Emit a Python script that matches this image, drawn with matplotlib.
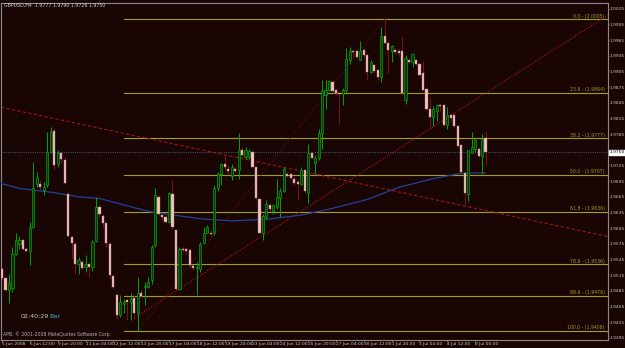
import matplotlib
matplotlib.use("Agg")
import matplotlib.pyplot as plt
import matplotlib.transforms as mtransforms

plt.rcParams['font.family'] = ['Liberation Sans Narrow', 'DejaVu Sans']

# GBPUSD H4 bars (O, H, L, C)
opens = [1.9526, 1.9509, 1.9486, 1.9490, 1.9556, 1.9575, 1.9582, 1.9566, 1.9561, 1.9607,
         1.9689, 1.9689, 1.9678, 1.9687, 1.9751, 1.9791, 1.9727, 1.9748, 1.9735, 1.9671,
         1.9588, 1.9575, 1.9537, 1.9540, 1.9531, 1.9536, 1.9531, 1.9581, 1.9645, 1.9628,
         1.9614, 1.9575, 1.9513, 1.9477, 1.9438, 1.9459, 1.9467, 1.9464, 1.9472, 1.9442,
         1.9480, 1.9492, 1.9492, 1.9506, 1.9572, 1.9665, 1.9630, 1.9627, 1.9617, 1.9671,
         1.9602, 1.9489, 1.9566, 1.9566, 1.9563, 1.9533, 1.9528, 1.9526, 1.9577, 1.9595,
         1.9596, 1.9595, 1.9681, 1.9709, 1.9727, 1.9719, 1.9704, 1.9719, 1.9717, 1.9755,
         1.9741, 1.9741, 1.9751, 1.9722, 1.9660, 1.9596, 1.9627, 1.9649, 1.9638, 1.9646,
         1.9663, 1.9677, 1.9709, 1.9708, 1.9700, 1.9694, 1.9689, 1.9717, 1.9672, 1.9749,
         1.9730, 1.9740, 1.9787, 1.9859, 1.9870, 1.9885, 1.9869, 1.9864, 1.9861, 1.9869,
         1.9927, 1.9945, 1.9944, 1.9927, 1.9947, 1.9936, 1.9904, 1.9917, 1.9907, 1.9894,
         1.9972, 1.9959, 1.9944, 1.9947, 1.9945, 1.9945, 1.9850, 1.9927, 1.9923, 1.9927,
         1.9920, 1.9902, 1.9872, 1.9834, 1.9817, 1.9830, 1.9840, 1.9840, 1.9802, 1.9821,
         1.9821, 1.9800, 1.9764, 1.9710, 1.9670, 1.9749, 1.9757, 1.9757, 1.9743, 1.9777]
highs = [1.9531, 1.9512, 1.9518, 1.9569, 1.9596, 1.9591, 1.9585, 1.9569, 1.9617, 1.9732,
         1.9713, 1.9697, 1.9693, 1.9789, 1.9799, 1.9796, 1.9754, 1.9751, 1.9741, 1.9674,
         1.9591, 1.9579, 1.9550, 1.9544, 1.9553, 1.9537, 1.9582, 1.9665, 1.9649, 1.9633,
         1.9617, 1.9579, 1.9515, 1.9480, 1.9477, 1.9470, 1.9470, 1.9480, 1.9477, 1.9512,
         1.9486, 1.9502, 1.9512, 1.9572, 1.9681, 1.9668, 1.9633, 1.9630, 1.9674, 1.9697,
         1.9604, 1.9569, 1.9569, 1.9569, 1.9566, 1.9534, 1.9540, 1.9579, 1.9607, 1.9611,
         1.9601, 1.9687, 1.9713, 1.9729, 1.9745, 1.9725, 1.9727, 1.9722, 1.9787, 1.9760,
         1.9760, 1.9757, 1.9754, 1.9723, 1.9663, 1.9633, 1.9658, 1.9652, 1.9651, 1.9700,
         1.9681, 1.9722, 1.9713, 1.9711, 1.9703, 1.9697, 1.9722, 1.9719, 1.9767, 1.9751,
         1.9745, 1.9794, 1.9889, 1.9889, 1.9889, 1.9888, 1.9872, 1.9866, 1.9874, 1.9949,
         1.9952, 1.9947, 1.9947, 1.9964, 1.9950, 1.9939, 1.9926, 1.9920, 1.9910, 1.9990,
         2.0005, 1.9961, 1.9955, 1.9949, 1.9948, 1.9971, 1.9936, 1.9929, 1.9940, 1.9929,
         1.9923, 1.9925, 1.9875, 1.9856, 1.9838, 1.9843, 1.9843, 1.9843, 1.9836, 1.9824,
         1.9824, 1.9802, 1.9767, 1.9712, 1.9755, 1.9789, 1.9776, 1.9760, 1.9785, 1.9790]
lows = [1.9505, 1.9483, 1.9461, 1.9483, 1.9553, 1.9566, 1.9563, 1.9560, 1.9534, 1.9605,
        1.9684, 1.9678, 1.9669, 1.9684, 1.9748, 1.9716, 1.9722, 1.9729, 1.9690, 1.9588,
        1.9547, 1.9518, 1.9518, 1.9527, 1.9521, 1.9512, 1.9524, 1.9579, 1.9627, 1.9607,
        1.9569, 1.9509, 1.9491, 1.9432, 1.9435, 1.9442, 1.9429, 1.9429, 1.9432, 1.9408,
        1.9473, 1.9458, 1.9490, 1.9499, 1.9569, 1.9630, 1.9620, 1.9614, 1.9614, 1.9604,
        1.9486, 1.9486, 1.9560, 1.9556, 1.9531, 1.9525, 1.9477, 1.9521, 1.9575, 1.9595,
        1.9591, 1.9592, 1.9677, 1.9687, 1.9716, 1.9709, 1.9698, 1.9713, 1.9700, 1.9741,
        1.9738, 1.9738, 1.9722, 1.9660, 1.9595, 1.9583, 1.9623, 1.9638, 1.9633, 1.9642,
        1.9627, 1.9674, 1.9703, 1.9700, 1.9687, 1.9658, 1.9687, 1.9674, 1.9653, 1.9738,
        1.9709, 1.9736, 1.9757, 1.9834, 1.9868, 1.9864, 1.9859, 1.9804, 1.9840, 1.9866,
        1.9920, 1.9933, 1.9929, 1.9926, 1.9933, 1.9888, 1.9902, 1.9902, 1.9888, 1.9885,
        1.9957, 1.9902, 1.9923, 1.9939, 1.9936, 1.9859, 1.9842, 1.9920, 1.9913, 1.9917,
        1.9896, 1.9869, 1.9832, 1.9795, 1.9800, 1.9811, 1.9830, 1.9800, 1.9795, 1.9811,
        1.9799, 1.9760, 1.9709, 1.9651, 1.9657, 1.9748, 1.9751, 1.9741, 1.9709, 1.9726]
closes = [1.9509, 1.9486, 1.9500, 1.9556, 1.9582, 1.9582, 1.9566, 1.9561, 1.9607, 1.9681,
          1.9703, 1.9683, 1.9684, 1.9751, 1.9789, 1.9725, 1.9748, 1.9738, 1.9692, 1.9590,
          1.9577, 1.9537, 1.9544, 1.9528, 1.9536, 1.9531, 1.9579, 1.9646, 1.9633, 1.9615,
          1.9577, 1.9515, 1.9493, 1.9438, 1.9464, 1.9464, 1.9464, 1.9470, 1.9442, 1.9480,
          1.9475, 1.9495, 1.9502, 1.9569, 1.9668, 1.9633, 1.9627, 1.9617, 1.9673, 1.9607,
          1.9489, 1.9566, 1.9563, 1.9561, 1.9534, 1.9528, 1.9531, 1.9575, 1.9596, 1.9607,
          1.9593, 1.9681, 1.9709, 1.9727, 1.9722, 1.9715, 1.9722, 1.9715, 1.9754, 1.9745,
          1.9754, 1.9753, 1.9723, 1.9662, 1.9596, 1.9628, 1.9651, 1.9641, 1.9649, 1.9665,
          1.9677, 1.9719, 1.9705, 1.9702, 1.9692, 1.9689, 1.9717, 1.9676, 1.9749, 1.9740,
          1.9740, 1.9787, 1.9868, 1.9869, 1.9887, 1.9868, 1.9864, 1.9861, 1.9869, 1.9929,
          1.9945, 1.9942, 1.9933, 1.9945, 1.9936, 1.9904, 1.9923, 1.9906, 1.9894, 1.9972,
          1.9959, 1.9947, 1.9953, 1.9942, 1.9940, 1.9864, 1.9931, 1.9923, 1.9938, 1.9920,
          1.9899, 1.9870, 1.9834, 1.9817, 1.9834, 1.9840, 1.9838, 1.9802, 1.9821, 1.9815,
          1.9800, 1.9762, 1.9713, 1.9672, 1.9754, 1.9760, 1.9773, 1.9743, 1.9776, 1.9750]

# moving average, read at a few bars
ma_bars = [-1, 5, 14, 22, 28, 37, 43, 57, 66, 76, 86, 95, 105, 114, 124, 132, 139]
ma_vals = [1.9692, 1.9681, 1.9674, 1.9665, 1.9662, 1.9646, 1.9636, 1.9623, 1.9619,
           1.9622, 1.9630, 1.9643, 1.9660, 1.9683, 1.9700, 1.9710, 1.9711]

fib_levels = ["0.0", "23.6", "38.2", "50.0", "61.8", "78.6", "88.6", "100.0"]
fib_prices = [2.0005, 1.9864, 1.9777, 1.9707, 1.9636, 1.9536, 1.9476, 1.9408]

# the 1.9755 slot is covered by the last-price box
price_ticks = [2.0025, 1.9995, 1.9965, 1.9935, 1.9905, 1.9875, 1.9845, 1.9815, 1.9785,
               1.9725, 1.9695, 1.9665, 1.9635, 1.9605, 1.9575, 1.9545, 1.9515,
               1.9485, 1.9455, 1.9425, 1.9395]
time_bars = [0, 8, 16, 24, 32, 40, 48, 56, 64, 72, 80, 88, 96, 104, 112, 120, 128, 136]
time_labels = ["5 Jun 2008", "6 Jun 12:00", "9 Jun 20:00", "11 Jun 04:00", "12 Jun 12:00",
               "13 Jun 20:00", "17 Jun 04:00", "18 Jun 12:00", "19 Jun 20:00",
               "23 Jun 04:00", "24 Jun 12:00", "25 Jun 20:00", "27 Jun 04:00",
               "30 Jun 12:00", "1 Jul 20:00", "3 Jul 04:00", "4 Jul 12:00", "8 Jul 00:00"]

down_line = [(-0.6, 1.9837), (172.8, 1.9591)]
up_line = [(38.8, 1.9437), (172.8, 2.0007)]
fib_anchor = [(39, 1.9408), (110, 2.0005)]
last_price = 1.9750

bg = '#1a0505'
grid_col = '#8a8a8a'
fib_col = '#a0a020'

fig = plt.figure(figsize=(6.25, 3.48), dpi=100, facecolor=bg)
ax = fig.add_axes([1 / 625, 8 / 348, 607 / 625, 337 / 348], facecolor=bg)
ax.set_xlim(-0.3, 174.2)
ax.set_ylim(1.9391, 2.0036)

# fibo levels
for lev, pr in zip(fib_levels, fib_prices):
    ax.plot([35, 175], [pr, pr], color=fib_col, lw=0.8, zorder=1)
    ax.text(173.3, pr + 0.00012, "%s - (%.4f)" % (lev, pr), color=fib_col,
            fontsize=3.3, ha='right', va='bottom', zorder=1)

# bid line
ax.axhline(last_price, color='#34506e', lw=0.8, ls=(0, (1, 1)), zorder=1)

# trend lines
ax.axline(down_line[0], down_line[1], color='#a01414', lw=0.8, ls=(0, (3, 2)), zorder=2)
slope = (up_line[1][1] - up_line[0][1]) / (up_line[1][0] - up_line[0][0])
ax.plot([up_line[0][0], 180], [up_line[0][1], up_line[0][1] + slope * (180 - up_line[0][0])],
        color='#b01818', lw=0.8, ls=(0, (1, 1.5)), zorder=2)
ax.plot([p[0] for p in fib_anchor], [p[1] for p in fib_anchor],
        color='#6e1010', lw=0.7, ls=(0, (1, 2)), zorder=2)

# moving average
ax.plot(ma_bars, ma_vals, color='#22409a', lw=0.9, zorder=3)

# candles
for i in range(len(opens)):
    o, h, l, c = opens[i], highs[i], lows[i], closes[i]
    if c >= o:
        ax.vlines(i, l, h, color='#00a800', lw=0.7, zorder=4)
        ax.bar(i, max(c - o, 0.00005), bottom=o, width=0.62, color='#0a300a',
               edgecolor='#00a800', lw=0.5, zorder=5)
    else:
        ax.vlines(i, l, h, color='#801414', lw=0.7, zorder=4)
        ax.bar(i, o - c, bottom=c, width=0.62, color='#f2c6c6',
               edgecolor='#b87878', lw=0.3, zorder=5)

# axes look
for s in ax.spines.values():
    s.set_color(grid_col)
    s.set_linewidth(0.8)
ax.yaxis.tick_right()
ax.set_yticks(price_ticks)
ax.set_yticklabels(["%.4f" % p for p in price_ticks])
ax.tick_params(axis='y', length=1, width=0.5, colors=grid_col, labelcolor='#c8c8c8',
               labelsize=3.2, pad=0.4)
ax.set_xticks(time_bars)
ax.set_xticklabels(time_labels)
ax.tick_params(axis='x', length=1.5, width=0.5, colors=grid_col, labelcolor='#c8c8c8',
               labelsize=3.2, pad=0.3)
for lab in ax.get_xticklabels():
    lab.set_ha('left')

trans = mtransforms.blended_transform_factory(ax.transAxes, ax.transData)
ax.text(1.0025, last_price, "%.4f" % last_price, transform=trans, fontsize=3.2,
        color='black', va='center', ha='left',
        bbox=dict(boxstyle='square,pad=0.08', fc='white', ec='white'))

fig.text(4 / 625, 1 - 5 / 348, "GBPUSD,H4  1.9777 1.9790 1.9726 1.9750",
         color='#d0d0d0', fontsize=3.4, va='center', ha='left')
fig.text(21 / 625, 1 - 317 / 348, "02:40:29", color='#c8c8c8', fontsize=4.6,
         va='center', ha='left')
fig.text(49 / 625, 1 - 317 / 348, "Bar", color='#30b8c0', fontsize=4.6,
         va='center', ha='left')
fig.text(3 / 625, 1 - 334 / 348, "APB, \u00a9 2001-2008 MetaQuotes Software Corp.",
         color='#b0b0b0', fontsize=3.3, va='center', ha='left')

fig.savefig("out.png", dpi=100, facecolor=bg)
